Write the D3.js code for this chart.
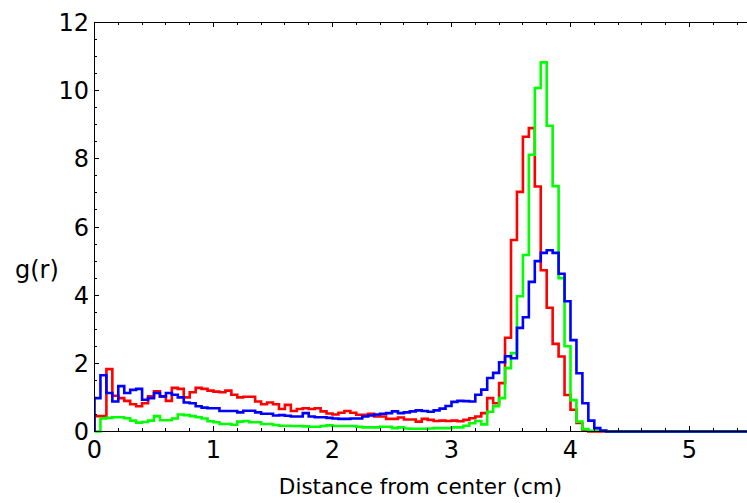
<!DOCTYPE html>
<html>
<head>
<meta charset="utf-8">
<script src="https://cdn.jsdelivr.net/npm/d3@7"></script>
<style>
    body { margin: 0; background: #fff; }
    svg text { font-family: 'DejaVu Sans', sans-serif; fill: #000; }
    .axis path, .axis line { stroke: #000; stroke-width: 1; shape-rendering: crispEdges; }
</style>
</head>
<body>
<div id="chart"></div>
<script>
// bin width of the histograms (cm)
const binWidth = 0.05;

// g(r) per bin, starting at r = 0
const redValues = [
    0.45, 0.45, 1.83, 1.05, 0.98, 0.90, 0.80, 0.74, 0.83, 1.03,
    1.18, 1.03, 0.90, 1.28, 1.25, 1.00, 1.15, 1.28, 1.25, 1.20,
    1.17, 1.15, 1.20, 1.08, 1.00, 1.02, 1.02, 0.88, 0.80, 0.85,
    0.80, 0.66, 0.78, 0.60, 0.66, 0.68, 0.66, 0.68, 0.59, 0.53,
    0.50, 0.55, 0.60, 0.55, 0.49, 0.49, 0.52, 0.44, 0.44, 0.37,
    0.37, 0.41, 0.35, 0.35, 0.29, 0.37, 0.34, 0.31, 0.32, 0.31,
    0.32, 0.30, 0.34, 0.39, 0.44, 0.54, 0.98, 0.83, 1.42, 2.75,
    5.62, 7.03, 8.65, 8.90, 7.19, 4.73, 3.63, 2.57, 2.20, 1.07,
    0.64, 0.25, 0.03, 0, 0, 0, 0, 0, 0, 0,
    0, 0, 0, 0, 0, 0, 0, 0, 0, 0,
    0, 0, 0, 0, 0, 0, 0, 0, 0, 0
];

const greenValues = [
    0, 0.38, 0.40, 0.42, 0.42, 0.39, 0.32, 0.26, 0.28, 0.32,
    0.45, 0.33, 0.33, 0.38, 0.50, 0.48, 0.45, 0.42, 0.38, 0.30,
    0.27, 0.22, 0.22, 0.20, 0.29, 0.31, 0.27, 0.27, 0.22, 0.22,
    0.19, 0.17, 0.17, 0.16, 0.16, 0.15, 0.14, 0.14, 0.16, 0.18,
    0.16, 0.16, 0.16, 0.16, 0.14, 0.12, 0.12, 0.12, 0.14, 0.14,
    0.10, 0.12, 0.09, 0.08, 0.08, 0.08, 0.09, 0.10, 0.10, 0.10,
    0.12, 0.12, 0.17, 0.24, 0.31, 0.21, 0.58, 0.74, 0.98, 1.86,
    2.30, 3.97, 5.18, 8.12, 10.08, 10.83, 8.97, 7.20, 4.50, 2.50,
    0.92, 0.29, 0.07, 0.02, 0.02, 0.02, 0, 0, 0, 0,
    0, 0, 0, 0, 0, 0, 0, 0, 0, 0,
    0, 0, 0, 0, 0, 0, 0, 0, 0, 0
];

const blueValues = [
    0.98, 1.65, 1.13, 0.88, 1.33, 1.13, 1.22, 1.25, 0.93, 0.98,
    1.13, 1.03, 1.13, 1.08, 1.00, 0.85, 0.83, 0.74, 0.70, 0.68,
    0.68, 0.60, 0.60, 0.60, 0.56, 0.61, 0.61, 0.56, 0.52, 0.52,
    0.47, 0.48, 0.46, 0.44, 0.44, 0.54, 0.44, 0.42, 0.42, 0.40,
    0.38, 0.37, 0.37, 0.38, 0.38, 0.44, 0.47, 0.50, 0.52, 0.54,
    0.59, 0.54, 0.56, 0.59, 0.62, 0.60, 0.58, 0.62, 0.67, 0.75,
    0.87, 0.90, 0.89, 0.88, 1.08, 1.23, 1.57, 1.72, 2.03, 2.21,
    2.15, 3.04, 3.35, 4.39, 5.00, 5.24, 5.32, 5.24, 4.63, 3.82,
    2.68, 1.71, 0.83, 0.32, 0.10, 0.03, 0, 0, 0, 0,
    0, 0, 0, 0, 0, 0, 0, 0, 0, 0,
    0, 0, 0, 0, 0, 0, 0, 0, 0, 0
];

// drawing order and colours
const seriesNames = ['red', 'green', 'blue'];
const seriesColors = ['#ff0000', '#00ff00', '#0000ff'];
const seriesValues = [redValues, greenValues, blueValues];

// tick labels
const xTicks = [0, 1, 2, 3, 4, 5];
const yTicks = [0, 2, 4, 6, 8, 10, 12];

const containerWidth = 747;
const containerHeight = 503;
// d3 axis adds a half pixel offset, so keep the margins on whole pixels
const margin = {top: 22, right: 0, bottom: 72, left: 94};
const width = containerWidth - margin.left - margin.right;
const height = containerHeight - margin.top - margin.bottom;

const svg = d3.select('#chart')
    .append('svg')
    .attr('width', containerWidth)
    .attr('height', containerHeight);

const chart = svg.append('g')
    .attr('transform', `translate(${margin.left},${margin.top})`);

// 119 px per cm, right side is cut by the window
const xScale = d3.scaleLinear()
    .domain([0, width / 119])
    .range([0, width]);

const yScale = d3.scaleLinear()
    .domain([0, 12])
    .range([height, 0]);

const xMinor = d3.range(0, 5.5, 0.2).filter(v => Math.abs(v - Math.round(v)) > 0.01);
const yMinor = d3.range(0.5, 12, 0.5).filter(v => v % 2 !== 0);

chart.append('clipPath')
    .attr('id', 'plot-clip')
    .append('rect')
    .attr('width', width + 1)
    .attr('height', height + 3)
    .attr('y', -1);

// step path like matplotlib histtype='step'
const stepLine = d3.line()
    .x(d => xScale(d[0]) + 0.5)
    .y(d => yScale(d[1]) + 0.5);

function stepPoints(values) {
    const pts = [[0, 0]];
    values.forEach((v, i) => {
        pts.push([i * binWidth, v]);
        pts.push([(i + 1) * binWidth, v]);
    });
    pts.push([values.length * binWidth, 0]);
    return pts;
}

chart.append('g')
    .attr('clip-path', 'url(#plot-clip)')
    .selectAll('.line')
    .data(seriesValues)
    .join('path')
    .attr('class', (d, i) => 'line ' + seriesNames[i])
    .attr('fill', 'none')
    .attr('stroke', (d, i) => seriesColors[i])
    .attr('stroke-width', 2.6)
    .attr('stroke-linejoin', 'miter')
    .attr('d', d => stepLine(stepPoints(d)));

// axes, ticks point inwards
const xAxis = d3.axisBottom(xScale)
    .tickValues(xTicks)
    .tickSizeInner(-5)
    .tickSizeOuter(0)
    .tickPadding(9)
    .tickFormat(d3.format('d'));

const xAxisG = chart.append('g')
    .attr('class', 'axis x-axis')
    .attr('transform', `translate(0,${height})`)
    .call(xAxis);

xAxisG.selectAll('.tick text')
    .attr('font-size', 24)
    .attr('dy', '0.74em');

chart.append('g')
    .attr('class', 'axis x-minor')
    .attr('transform', `translate(0,${height})`)
    .call(d3.axisBottom(xScale).tickValues(xMinor).tickSize(-3).tickSizeOuter(0).tickFormat(''))
    .select('.domain').remove();

chart.append('g')
    .attr('class', 'axis x-top')
    .call(d3.axisTop(xScale).tickValues(xTicks).tickSize(-5).tickSizeOuter(0).tickFormat(''));

chart.append('g')
    .attr('class', 'axis x-top-minor')
    .call(d3.axisTop(xScale).tickValues(xMinor).tickSize(-3).tickSizeOuter(0).tickFormat(''))
    .select('.domain').remove();

const yAxisG = chart.append('g')
    .attr('class', 'axis y-axis')
    .call(d3.axisLeft(yScale).tickValues(yTicks).tickSize(-5).tickSizeOuter(0).tickPadding(5));

yAxisG.selectAll('.tick text')
    .attr('font-size', 24)
    .attr('dy', '0.36em');

chart.append('g')
    .attr('class', 'axis y-minor')
    .call(d3.axisLeft(yScale).tickValues(yMinor).tickSize(-3).tickSizeOuter(0).tickFormat(''))
    .select('.domain').remove();

// axis titles
svg.append('text')
    .attr('class', 'axis-title')
    .attr('x', 420.5)
    .attr('y', 494)
    .attr('font-size', 21.5)
    .style('text-anchor', 'middle')
    .text('Distance from center (cm)');

svg.append('text')
    .attr('class', 'axis-title')
    .attr('x', 15)
    .attr('y', 278)
    .attr('font-size', 24)
    .text('g(r)');
</script>
</body>
</html>
